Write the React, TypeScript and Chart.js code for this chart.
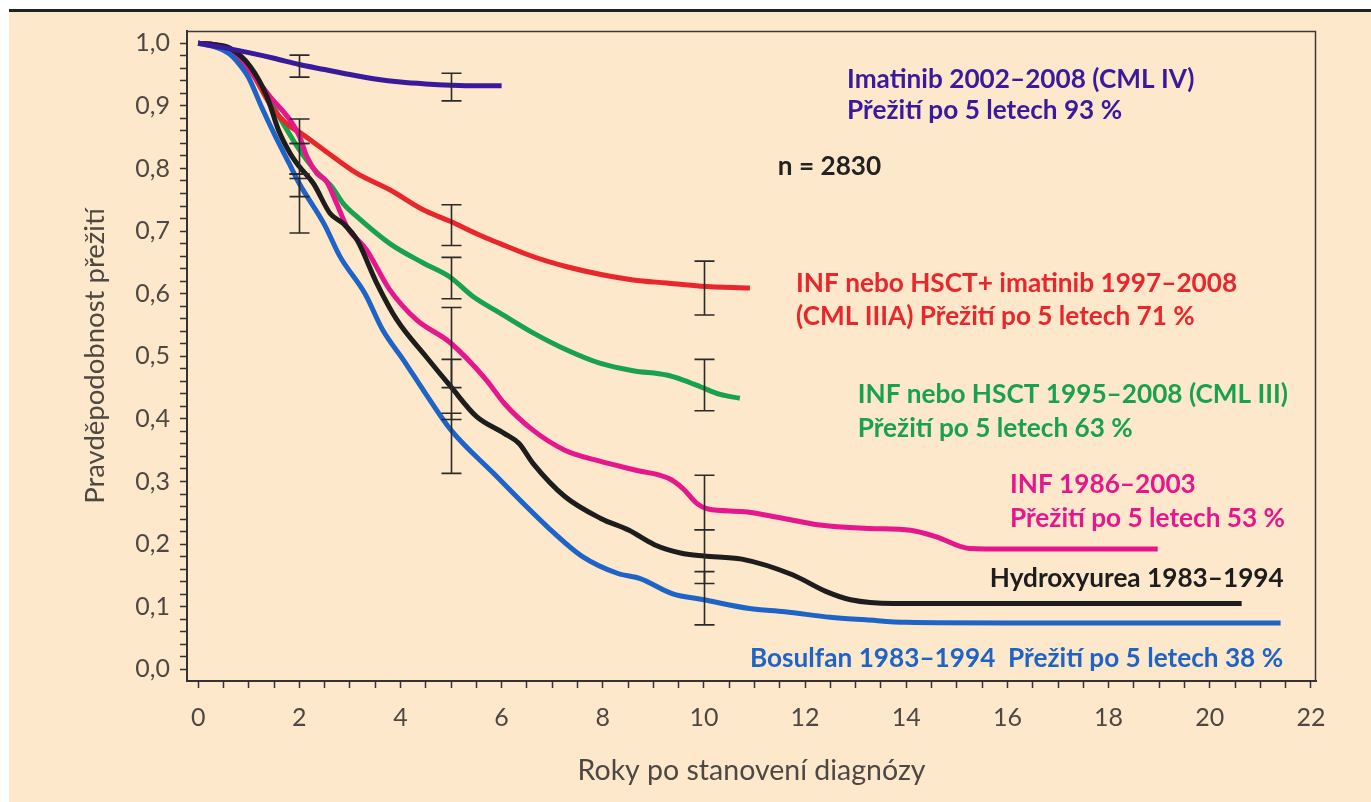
import React, { useEffect, useRef } from "react";
import { Chart, registerables } from "chart.js";

Chart.register(...registerables);

// ---------- data ----------
const imatinibX = [0, 0.5, 1, 1.5, 2, 2.5, 3, 3.5, 4, 4.5, 5, 5.5, 6];
const imatinibY = [1.0, 0.993, 0.985, 0.976, 0.966, 0.958, 0.95, 0.943, 0.938, 0.935, 0.933, 0.932, 0.932];

const bosulfanX = [0, 0.3, 0.6, 0.8, 1.0, 1.25, 1.5, 1.8, 2.0, 2.5, 2.8, 3.3, 3.65, 4.06, 4.5, 5.0, 5.84, 6.9, 7.6, 8.3, 8.74, 9.37, 10, 10.9, 11.6, 12.5, 13.2, 14, 16, 18, 20, 21.4];
const bosulfanY = [1.0, 0.995, 0.984, 0.968, 0.945, 0.899, 0.856, 0.808, 0.776, 0.71, 0.66, 0.6, 0.542, 0.494, 0.44, 0.382, 0.313, 0.228, 0.18, 0.153, 0.145, 0.121, 0.111, 0.097, 0.092, 0.083, 0.079, 0.075, 0.074, 0.074, 0.074, 0.074];

const hydroxyureaX = [0, 0.3, 0.63, 1.03, 1.36, 1.59, 1.82, 2.0, 2.28, 2.61, 2.87, 3.14, 3.53, 3.93, 4.5, 5.0, 5.5, 6.05, 6.34, 6.62, 7.25, 7.96, 8.52, 9.02, 9.58, 10, 10.75, 11.75, 12.42, 12.9, 13.75, 16, 18, 20.63];
const hydroxyureaY = [1.0, 0.998, 0.992, 0.963, 0.915, 0.861, 0.824, 0.803, 0.776, 0.728, 0.712, 0.686, 0.617, 0.558, 0.5, 0.451, 0.404, 0.377, 0.361, 0.329, 0.276, 0.241, 0.222, 0.199, 0.185, 0.181, 0.176, 0.151, 0.124, 0.111, 0.105, 0.105, 0.105, 0.105];

const infX = [0, 0.3, 0.6, 1.03, 1.42, 1.82, 2.0, 2.15, 2.35, 2.54, 2.74, 2.94, 3.33, 3.79, 4.32, 4.98, 5.7, 6.05, 6.62, 7.25, 7.96, 8.66, 9.3, 9.58, 9.86, 10.08, 10.75, 11.58, 12.25, 13.25, 14.08, 14.58, 15.25, 16, 18, 18.97];
const infY = [1.0, 0.998, 0.99, 0.955, 0.915, 0.877, 0.852, 0.819, 0.792, 0.779, 0.744, 0.707, 0.67, 0.606, 0.558, 0.522, 0.462, 0.425, 0.382, 0.35, 0.332, 0.318, 0.305, 0.289, 0.265, 0.256, 0.252, 0.241, 0.231, 0.225, 0.222, 0.212, 0.193, 0.192, 0.192, 0.192];

const infHsctX = [0, 0.3, 0.6, 1.0, 1.4, 1.6, 2.0, 2.3, 2.64, 2.87, 3.14, 3.79, 4.45, 4.97, 5.44, 5.97, 6.63, 7.29, 7.94, 8.6, 9.26, 9.59, 9.94, 10.32, 10.71];
const infHsctY = [1.0, 0.998, 0.99, 0.96, 0.912, 0.883, 0.83, 0.798, 0.771, 0.744, 0.723, 0.68, 0.649, 0.627, 0.595, 0.569, 0.537, 0.51, 0.489, 0.477, 0.47, 0.462, 0.451, 0.439, 0.433];

const infImatinibX = [0, 0.3, 0.6, 1.0, 1.49, 1.82, 2.0, 2.48, 3.14, 3.79, 4.45, 4.97, 5.64, 5.97, 6.63, 7.29, 7.94, 8.6, 9.26, 9.94, 10.91];
const infImatinibY = [1.0, 0.998, 0.99, 0.96, 0.894, 0.867, 0.858, 0.83, 0.792, 0.766, 0.734, 0.716, 0.691, 0.68, 0.659, 0.643, 0.631, 0.622, 0.617, 0.612, 0.609];

// error bars (x, low, high)
const errorBarX = [2, 2, 2, 2, 2, 5, 5, 5, 5, 5, 5, 10, 10, 10, 10, 10];
const errorBarLow = [0.946, 0.84, 0.791, 0.755, 0.697, 0.908, 0.677, 0.592, 0.45, 0.399, 0.313, 0.566, 0.413, 0.223, 0.137, 0.071];
const errorBarHigh = [0.981, 0.879, 0.84, 0.791, 0.784, 0.952, 0.742, 0.658, 0.578, 0.495, 0.409, 0.652, 0.495, 0.31, 0.223, 0.156];

// text labels
const annotationTexts = [
  "Imatinib 2002–2008 (CML IV)",
  "Přežití po 5 letech 93 %",
  "n = 2830",
  "INF nebo HSCT+ imatinib 1997–2008",
  "(CML IIIA) Přežití po 5 letech 71 %",
  "INF nebo HSCT 1995–2008 (CML III)",
  "Přežití po 5 letech 63 %",
  "INF 1986–2003",
  "Přežití po 5 letech 53 %",
  "Hydroxyurea 1983–1994",
  "Bosulfan 1983–1994  Přežití po 5 letech 38 %",
];

const yTitle = "Pravděpodobnost přežití";
const xTitle = "Roky po stanovení diagnózy";

// ---------- styles / layout ----------
const PURPLE = "#3a1a9c";
const RED = "#e8262b";
const GREEN = "#19a24d";
const MAGENTA = "#e6168d";
const BLACK = "#1d1d1d";
const BLUE = "#1e63c6";
const CREAM = "#fde8cb";
const AXIS = "#333333";
const LABEL = "#4d4843";

const annotationColors = [PURPLE, PURPLE, "#222222", RED, RED, GREEN, GREEN, MAGENTA, MAGENTA, BLACK, BLUE];
// anchor (left, baseline) in data units
const annotationAnchors: [number, number][] = [
  [12.83, 0.929],
  [12.83, 0.879],
  [11.46, 0.79],
  [11.82, 0.603],
  [11.82, 0.55],
  [13.04, 0.425],
  [13.04, 0.371],
  [16.05, 0.281],
  [16.05, 0.228],
  [15.65, 0.132],
  [10.91, 0.004],
];

const toPoints = (xs: number[], ys: number[]) => xs.map((x, i) => ({ x, y: ys[i] }));

const errorBarPlugin = {
  id: "errorBars",
  afterDatasetsDraw(chart: any) {
    const { ctx, scales } = chart;
    const xs = scales.x;
    const ys = scales.y;
    ctx.save();
    ctx.strokeStyle = "#2a2a2a";
    ctx.lineWidth = 1.6;
    errorBarX.forEach((xv, i) => {
      const px = Math.round(xs.getPixelForValue(xv)) + 0.5;
      const lo = ys.getPixelForValue(errorBarLow[i]);
      const hi = ys.getPixelForValue(errorBarHigh[i]);
      ctx.beginPath();
      ctx.moveTo(px, lo);
      ctx.lineTo(px, hi);
      ctx.moveTo(px - 10, lo);
      ctx.lineTo(px + 10, lo);
      ctx.moveTo(px - 10, hi);
      ctx.lineTo(px + 10, hi);
      ctx.stroke();
    });
    ctx.restore();
  },
};

const annotationPlugin = {
  id: "annotations",
  afterDatasetsDraw(chart: any) {
    const { ctx, scales } = chart;
    ctx.save();
    ctx.font = "bold 26.2px Lato";
    ctx.textAlign = "left";
    ctx.textBaseline = "alphabetic";
    annotationTexts.forEach((t, i) => {
      const [ax, ay] = annotationAnchors[i];
      ctx.fillStyle = annotationColors[i];
      ctx.fillText(t, scales.x.getPixelForValue(ax), scales.y.getPixelForValue(ay));
    });
    ctx.restore();
  },
};

const framePlugin = {
  id: "frame",
  afterDraw(chart: any) {
    const { ctx, chartArea } = chart;
    ctx.save();
    ctx.strokeStyle = "#3a3a3a";
    ctx.lineWidth = 1.5;
    ctx.beginPath();
    ctx.moveTo(chartArea.left, chartArea.top + 0.5);
    ctx.lineTo(chartArea.right - 0.5, chartArea.top + 0.5);
    ctx.lineTo(chartArea.right - 0.5, chartArea.bottom);
    ctx.stroke();
    ctx.restore();
  },
};

export default function App() {
  const ref = useRef<HTMLCanvasElement>(null);

  useEffect(() => {
    const canvas = ref.current;
    if (!canvas) return;
    const line = (data: any, color: string) => ({
      data,
      borderColor: color,
      backgroundColor: color,
      borderWidth: 5,
      pointRadius: 0,
      fill: false,
      cubicInterpolationMode: "monotone" as const,
      borderCapStyle: "butt" as const,
      borderJoinStyle: "round" as const,
    });
    const chart = new Chart(canvas, {
      type: "line",
      data: {
        datasets: [
          line(toPoints(imatinibX, imatinibY), PURPLE),
          line(toPoints(bosulfanX, bosulfanY), BLUE),
          line(toPoints(hydroxyureaX, hydroxyureaY), BLACK),
          line(toPoints(infX, infY), MAGENTA),
          line(toPoints(infImatinibX, infImatinibY), RED),
          line(toPoints(infHsctX, infHsctY), GREEN),
        ],
      },
      options: {
        animation: false,
        responsive: false,
        maintainAspectRatio: false,
        devicePixelRatio: 1,
        layout: { padding: { left: 0, top: 31, right: 55, bottom: 0 } },
        plugins: { legend: { display: false }, tooltip: { enabled: false } },
        scales: {
          x: {
            type: "linear",
            min: -0.22,
            max: 22.1,
            afterFit: (s: any) => {
              s.height = 121;
            },
            ticks: {
              stepSize: 0.5,
              includeBounds: false,
              autoSkip: false,
              maxRotation: 0,
              padding: 15,
              color: LABEL,
              font: { family: "Lato", size: 25 },
              callback: (v: any) => {
                const n = Number(v);
                return Math.abs(n / 2 - Math.round(n / 2)) < 1e-6 ? String(Math.round(n)) : "";
              },
            },
            grid: { drawOnChartArea: false, drawTicks: true, tickLength: 7, tickWidth: 1.5, tickColor: AXIS },
            border: { display: true, color: AXIS, width: 2 },
            title: {
              display: true,
              text: xTitle,
              color: LABEL,
              font: { family: "Lato", size: 28.5 },
              padding: { top: 0, bottom: 14 },
            },
          },
          y: {
            type: "linear",
            min: -0.0187,
            max: 1.0196,
            afterFit: (s: any) => {
              s.width = 187;
            },
            ticks: {
              stepSize: 0.02,
              includeBounds: false,
              autoSkip: false,
              padding: 10,
              color: LABEL,
              font: { family: "Lato", size: 25 },
              callback: (v: any) => {
                const n = Number(v);
                return Math.abs(n * 10 - Math.round(n * 10)) < 1e-6 ? n.toFixed(1).replace(".", ",") : "";
              },
            },
            grid: { drawOnChartArea: false, drawTicks: true, tickLength: 7, tickWidth: 1.5, tickColor: AXIS },
            border: { display: true, color: AXIS, width: 2 },
            title: {
              display: true,
              text: yTitle,
              color: LABEL,
              font: { family: "Lato", size: 27.5 },
              padding: { top: 79, bottom: 0 },
            },
          },
        },
      },
      plugins: [errorBarPlugin, annotationPlugin, framePlugin],
    });
    return () => chart.destroy();
  }, []);

  return (
    <div style={{ position: "fixed", left: 0, top: 0, width: 1371, height: 802, background: "#ffffff", overflow: "hidden" }}>
      <div style={{ position: "absolute", left: 9, top: 9, right: 0, height: 3, background: "#222" }} />
      <div style={{ position: "absolute", left: 9, top: 12, right: 0, bottom: 0, background: CREAM }} />
      <canvas
        ref={ref}
        width={1371}
        height={802}
        style={{ position: "absolute", left: 0, top: 0, width: 1371, height: 802, display: "block" }}
      />
    </div>
  );
}
